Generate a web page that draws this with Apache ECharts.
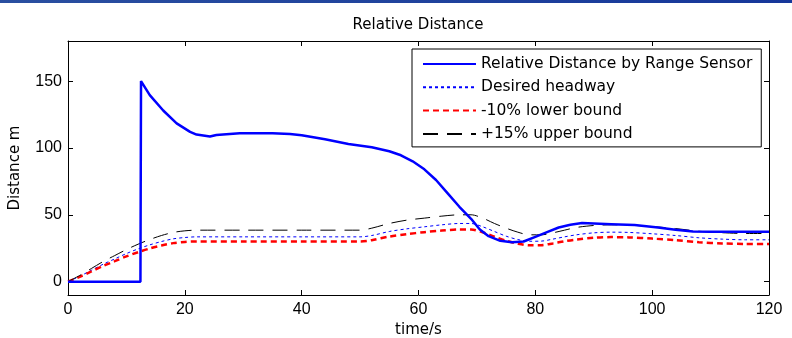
<!DOCTYPE html>
<html><head><meta charset="utf-8">
<script src="https://cdn.jsdelivr.net/npm/echarts@6/dist/echarts.min.js"></script>
<style>html,body{margin:0;padding:0;background:#fff}#c{width:792px;height:338px}</style>
</head><body><div id="c"></div>
<script>
// ---- data ----
var xTicks = [0, 20, 40, 60, 80, 100, 120];
var yTicks = [0, 50, 100, 150];

var tMain = [0, 12.4, 12.5, 14, 16.3, 18.6, 20.9, 22, 24.3, 25.4, 29.4, 35, 38, 40, 44, 48, 52, 55, 57, 59, 61, 63, 65, 67, 69, 70.5, 72, 74, 76, 78, 80, 82, 84, 86, 88, 90, 93, 97, 101, 104, 107, 110, 120];
var vMain = [0, 0, 150, 139.5, 128, 118.4, 112, 110, 108.5, 109.7, 111, 111, 110.5, 109.5, 106.5, 103, 100.5, 97.5, 94.5, 90, 84, 76, 66, 56, 47, 39, 34, 30.5, 29.5, 30, 33.5, 37, 40.5, 42.5, 43.8, 43.5, 43, 42.3, 40.5, 38.8, 37.5, 37.3, 37.3];

var tBound = [0, 2, 4, 6, 8, 10, 12, 14, 16, 18, 20, 22, 30, 40, 50, 52, 55, 58, 61, 64, 67, 69, 71, 73, 75, 77, 79, 81, 83, 85, 87, 90, 93, 96, 100, 104, 108, 112, 116, 120];
var vDesired = [0, 4, 8.5, 13, 17, 21, 24.5, 27.5, 30, 32, 33, 33.5, 33.5, 33.5, 33.5, 34.5, 37.5, 39.5, 41, 42.5, 43.5, 43.5, 41, 37.5, 34, 31.5, 30.2, 30.3, 31.8, 33.5, 35, 36.5, 37, 36.8, 35.8, 34.5, 32.8, 31.8, 31.3, 31.3];
var vLower = [0, 3.6, 7.6, 11.7, 15.3, 18.9, 22, 24.8, 27, 28.8, 29.7, 30.1, 30.1, 30.1, 30.1, 31, 33.7, 35.5, 37, 38.2, 39, 39, 36.9, 33.7, 30.6, 28.4, 27.2, 27.3, 28.6, 30.2, 31.5, 32.8, 33.3, 33.1, 32.2, 31, 29.5, 28.6, 28.2, 28.2];
var vUpper = [0, 4.6, 9.8, 15, 19.5, 24, 28, 31.5, 34.5, 36.8, 38, 38.5, 38.5, 38.5, 38.5, 40, 43.5, 46, 47.5, 49, 50, 50, 47.5, 43.5, 40, 37, 35, 35, 36.5, 38.5, 40.5, 42, 42.5, 42.3, 41.2, 39.7, 37.7, 36.6, 36, 36];

var names = ['Relative Distance by Range Sensor', 'Desired headway', '-10% lower bound', '+15% upper bound'];

function pairs(t, v) { return t.map(function (x, i) { return [x, v[i]]; }); }

var FONT = '"DejaVu Sans", sans-serif';
var NUMFONT = '"Liberation Sans", Arial, sans-serif';
var chart = echarts.init(document.getElementById('c'), null, { renderer: 'canvas' });
var axisLine = { show: true, onZero: false, lineStyle: { color: '#000', width: 1 } };
var tick = { show: true, inside: true, length: 5, lineStyle: { color: '#000' } };

chart.setOption({
  animation: false,
  backgroundColor: '#fff',
  title: {
    text: 'Relative Distance', left: 413, top: 13, textAlign: 'center',
    textStyle: { fontFamily: FONT, fontSize: 15, fontWeight: 'normal', color: '#000' }
  },
  graphic: [{
    type: 'rect', left: 0, top: 0, shape: { width: 792, height: 3 },
    style: { fill: new echarts.graphic.LinearGradient(0, 0, 1, 0, [{ offset: 0, color: '#2a4fa0' }, { offset: 1, color: '#16379a' }]) }
  }],
  grid: { left: 68, right: 23, top: 41, bottom: 43, outerBoundsMode: 'none', containLabel: false },
  legend: {
    orient: 'vertical', left: 412, top: 49,
    itemWidth: 53, itemHeight: 15, itemGap: 7.3,
    padding: [7, 9, 5, 10],
    backgroundColor: '#fff', borderColor: '#000', borderWidth: 1, borderRadius: 0,
    itemStyle: { opacity: 0 },
    textStyle: { fontFamily: FONT, fontSize: 15.5, color: '#000' },
    data: names
  },
  xAxis: [{
    type: 'value', min: 0, max: 120, interval: 20,
    name: 'time/s', nameLocation: 'middle', nameGap: 24,
    nameTextStyle: { fontFamily: FONT, fontSize: 15, color: '#000' },
    axisLine: axisLine, axisTick: tick,
    axisLabel: { fontFamily: NUMFONT, fontSize: 16, color: '#000', margin: 7 },
    splitLine: { show: false }
  }, {
    type: 'value', position: 'top', min: 0, max: 120, interval: 20,
    axisLine: axisLine, axisTick: tick,
    axisLabel: { show: false }, splitLine: { show: false }
  }],
  yAxis: [{
    type: 'value', min: -10, max: 180,
    name: 'Distance m', nameLocation: 'middle', nameGap: 45, nameRotate: 90,
    nameTextStyle: { fontFamily: FONT, fontSize: 15, color: '#000' },
    axisLine: axisLine,
    axisTick: Object.assign({}, tick, { customValues: yTicks }),
    axisLabel: { fontFamily: NUMFONT, fontSize: 16, color: '#000', margin: 6, customValues: yTicks },
    splitLine: { show: false }
  }, {
    type: 'value', position: 'right', min: -10, max: 180,
    axisLine: axisLine,
    axisTick: Object.assign({}, tick, { customValues: yTicks }),
    axisLabel: { show: false, customValues: yTicks }, splitLine: { show: false }
  }],
  series: [{
    name: names[0], type: 'line', symbol: 'none', data: pairs(tMain, vMain),
    lineStyle: { color: '#0000ff', width: 2.5 }, itemStyle: { color: '#0000ff' }, z: 5
  }, {
    name: names[1], type: 'line', symbol: 'none', data: pairs(tBound, vDesired), smooth: 0.3,
    lineStyle: { color: '#0000ff', width: 1, type: [3, 3] }, itemStyle: { color: '#0000ff' }, z: 3
  }, {
    name: names[2], type: 'line', symbol: 'none', data: pairs(tBound, vLower), smooth: 0.3,
    lineStyle: { color: '#ff0000', width: 2.5, type: [6, 4] }, itemStyle: { color: '#ff0000' }, z: 3
  }, {
    name: names[3], type: 'line', symbol: 'none', data: pairs(tBound, vUpper), smooth: 0.3,
    lineStyle: { color: '#000000', width: 1, type: [15, 9] }, itemStyle: { color: '#000000' }, z: 3
  }]
});
</script></body></html>
